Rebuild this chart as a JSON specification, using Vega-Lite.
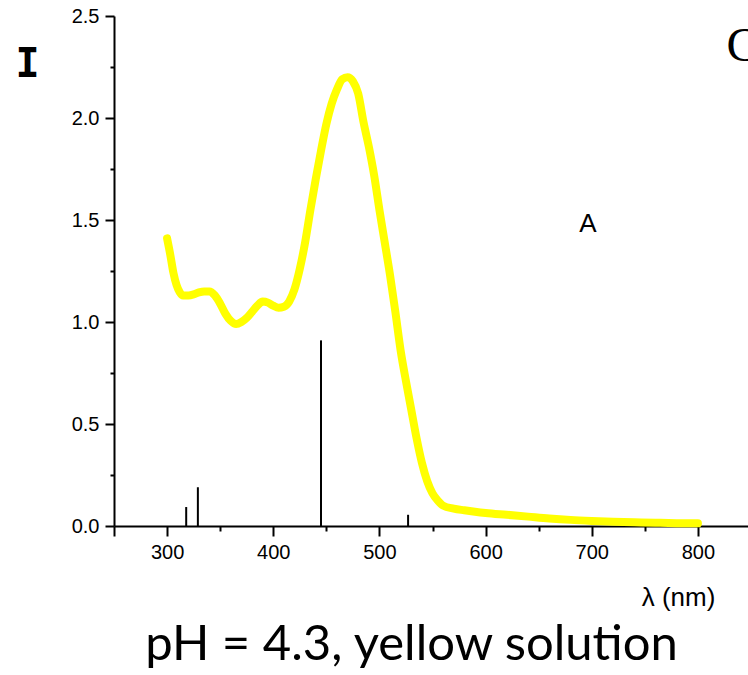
{
  "$schema": "https://vega.github.io/schema/vega-lite/v6.json",
  "width": 637,
  "height": 510,
  "autosize": {"type": "none"},
  "padding": {"left": 114, "top": 16, "right": 0, "bottom": 149},
  "background": "white",
  "config": {
    "view": {"stroke": null},
    "axis": {
      "grid": false,
      "domainColor": "black",
      "domainWidth": 2,
      "tickColor": "black",
      "tickWidth": 2,
      "labelColor": "black",
      "labelFont": "Liberation Sans",
      "labelFontSize": 20,
      "titleColor": "black",
      "labelOverlap": false,
      "labelFlush": false
    }
  },
  "title": {
    "text": "pH = 4.3, yellow solution",
    "orient": "bottom",
    "anchor": "middle",
    "frame": "group",
    "font": "Lato",
    "fontSize": 49,
    "fontWeight": "normal",
    "color": "black",
    "baseline": "top",
    "offset": 11,
    "dx": -21
  },
  "datasets": {
    "spectrum": [
      {"wl": 300, "I": 1.41}, {"wl": 303, "I": 1.33}, {"wl": 306, "I": 1.24}, {"wl": 309, "I": 1.18},
      {"wl": 312, "I": 1.145}, {"wl": 315, "I": 1.13}, {"wl": 320, "I": 1.13}, {"wl": 325, "I": 1.135},
      {"wl": 330, "I": 1.145}, {"wl": 335, "I": 1.15}, {"wl": 340, "I": 1.15}, {"wl": 345, "I": 1.13},
      {"wl": 350, "I": 1.09}, {"wl": 355, "I": 1.04}, {"wl": 360, "I": 1.005}, {"wl": 365, "I": 0.99},
      {"wl": 370, "I": 1.0}, {"wl": 375, "I": 1.02}, {"wl": 380, "I": 1.05}, {"wl": 385, "I": 1.08},
      {"wl": 390, "I": 1.1}, {"wl": 395, "I": 1.095}, {"wl": 400, "I": 1.08}, {"wl": 405, "I": 1.07},
      {"wl": 410, "I": 1.075}, {"wl": 415, "I": 1.1}, {"wl": 420, "I": 1.16}, {"wl": 425, "I": 1.26},
      {"wl": 430, "I": 1.39}, {"wl": 435, "I": 1.55}, {"wl": 440, "I": 1.7}, {"wl": 445, "I": 1.84},
      {"wl": 450, "I": 1.97}, {"wl": 455, "I": 2.07}, {"wl": 460, "I": 2.14}, {"wl": 465, "I": 2.19},
      {"wl": 470, "I": 2.2}, {"wl": 475, "I": 2.18}, {"wl": 480, "I": 2.12}, {"wl": 485, "I": 1.98},
      {"wl": 490, "I": 1.86}, {"wl": 495, "I": 1.72}, {"wl": 500, "I": 1.55}, {"wl": 505, "I": 1.39},
      {"wl": 510, "I": 1.23}, {"wl": 515, "I": 1.05}, {"wl": 520, "I": 0.86}, {"wl": 525, "I": 0.71},
      {"wl": 530, "I": 0.57}, {"wl": 535, "I": 0.43}, {"wl": 540, "I": 0.31}, {"wl": 545, "I": 0.22},
      {"wl": 550, "I": 0.16}, {"wl": 555, "I": 0.125}, {"wl": 560, "I": 0.1}, {"wl": 570, "I": 0.085},
      {"wl": 580, "I": 0.077}, {"wl": 590, "I": 0.07}, {"wl": 600, "I": 0.064}, {"wl": 620, "I": 0.055},
      {"wl": 640, "I": 0.046}, {"wl": 660, "I": 0.037}, {"wl": 680, "I": 0.03}, {"wl": 700, "I": 0.025},
      {"wl": 720, "I": 0.021}, {"wl": 740, "I": 0.018}, {"wl": 760, "I": 0.016}, {"wl": 780, "I": 0.014},
      {"wl": 800, "I": 0.013}
    ],
    "sticks": [
      {"wl": 318, "I": 0.093},
      {"wl": 329, "I": 0.19},
      {"wl": 445, "I": 0.91},
      {"wl": 527, "I": 0.055}
    ],
    "labels": [
      {"wl": 696.5, "I": 1.48, "label": "A"}
    ],
    "labels2": [
      {"wl": 827, "I": 2.35, "label": "C"}
    ]
  },
  "encoding": {
    "x": {
      "field": "wl",
      "type": "quantitative",
      "scale": {"domain": [250, 850], "nice": false, "zero": false},
      "axis": {
        "values": [250, 300, 350, 400, 450, 500, 550, 600, 650, 700, 750, 800, 850],
        "labelExpr": "datum.value % 100 === 0 ? datum.label : ''",
        "tickSize": {"condition": {"test": "datum.value % 100 === 0 || datum.value === 250", "value": 10}, "value": 5},
        "labelPadding": 6,
        "title": "λ (nm)",
        "titleFont": "Liberation Sans",
        "titleFontSize": 26,
        "titleFontWeight": "normal",
        "titleX": 564,
        "titleY": 71,
        "titleAlign": "center",
        "titleBaseline": "middle"
      }
    },
    "y": {
      "field": "I",
      "type": "quantitative",
      "scale": {"domain": [0, 2.5], "nice": false},
      "axis": {
        "values": [0, 0.25, 0.5, 0.75, 1, 1.25, 1.5, 1.75, 2, 2.25, 2.5],
        "labelExpr": "abs(datum.value * 2 - round(datum.value * 2)) < 0.000001 ? format(datum.value, '.1f') : ''",
        "tickSize": {"condition": {"test": "abs(datum.value * 2 - round(datum.value * 2)) < 0.000001", "value": 9}, "value": 4},
        "labelPadding": 6,
        "title": "I",
        "titleAngle": 0,
        "titleFont": "DejaVu Sans Mono",
        "titleFontWeight": "bold",
        "titleFontSize": 40,
        "titleX": -87,
        "titleY": 48,
        "titleAlign": "center",
        "titleBaseline": "middle"
      }
    }
  },
  "layer": [
    {
      "data": {"name": "sticks"},
      "mark": {"type": "rule", "color": "black", "strokeWidth": 2},
      "encoding": {"y2": {"datum": 0}}
    },
    {
      "data": {"name": "spectrum"},
      "mark": {"type": "line", "color": "#ffff00", "strokeWidth": 8, "strokeCap": "round", "strokeJoin": "round", "interpolate": "monotone"}
    },
    {
      "data": {"name": "labels"},
      "mark": {"type": "text", "font": "Liberation Sans", "fontSize": 26, "color": "black", "align": "center", "baseline": "middle"},
      "encoding": {"text": {"field": "label"}}
    },
    {
      "data": {"name": "labels2"},
      "mark": {"type": "text", "font": "Liberation Serif", "fontSize": 48, "color": "black", "align": "left", "baseline": "middle"},
      "encoding": {"text": {"field": "label"}}
    }
  ]
}
